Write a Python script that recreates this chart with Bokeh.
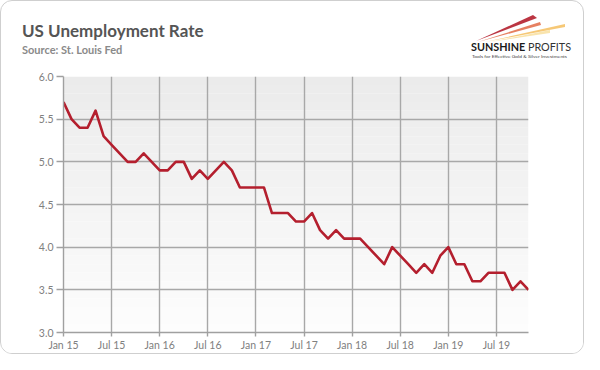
import numpy as np
from bokeh.plotting import figure
from bokeh.layouts import column
from bokeh.models import FixedTicker, Range1d, PrintfTickFormatter, Div
from bokeh.embed import file_html
from bokeh.resources import INLINE

# ---- data (monthly, Jan 2015 .. Nov 2019) ----
rate_2015 = [5.7, 5.5, 5.4, 5.4, 5.6, 5.3, 5.2, 5.1, 5.0, 5.0, 5.1, 5.0]
rate_2016 = [4.9, 4.9, 5.0, 5.0, 4.8, 4.9, 4.8, 4.9, 5.0, 4.9, 4.7, 4.7]
rate_2017 = [4.7, 4.7, 4.4, 4.4, 4.4, 4.3, 4.3, 4.4, 4.2, 4.1, 4.2, 4.1]
rate_2018 = [4.1, 4.1, 4.0, 3.9, 3.8, 4.0, 3.9, 3.8, 3.7, 3.8, 3.7, 3.9]
rate_2019 = [4.0, 3.8, 3.8, 3.6, 3.6, 3.7, 3.7, 3.7, 3.5, 3.6, 3.5]
rates = rate_2015 + rate_2016 + rate_2017 + rate_2018 + rate_2019
months = list(range(len(rates)))

tick_months = [0, 6, 12, 18, 24, 30, 36, 42, 48, 54]
tick_labels = ["Jan 15", "Jul 15", "Jan 16", "Jul 16", "Jan 17",
               "Jul 17", "Jan 18", "Jul 18", "Jan 19", "Jul 19"]
y_ticks = [3.0, 3.5, 4.0, 4.5, 5.0, 5.5, 6.0]

title_text = "US Unemployment Rate"
subtitle_text = "Source: St. Louis Fed"
logo_bold = "SUNSHINE"
logo_light = "PROFITS"
logo_tagline = "Tools for Effective Gold &amp; Silver Investments"

FONT = "Lato"
W = 582
HEADER_H = 62
F = f"font-family:{FONT},sans-serif;"

# ---------------- header (title, source, logo) ----------------
header_html = f"""
<svg xmlns="http://www.w3.org/2000/svg" width="{W}" height="{HEADER_H}" style="display:block">
  <text x="21" y="36" style="{F}font-size:17px;font-weight:bold;fill:#555555">{title_text}</text>
  <text x="21" y="53" style="{F}font-size:11px;font-weight:bold;fill:#8a8a8a">{subtitle_text}</text>
  <polygon points="475,40 532,14 536,17" fill="#b41f2e" fill-opacity="0.9"/>
  <polygon points="477,41 539,21 540,24" fill="#e0603a" fill-opacity="0.8"/>
  <polygon points="484,41 564,23 564,26" fill="#f2b13c" fill-opacity="0.7"/>
  <polygon points="489,41 549,29 549,32" fill="#f7d98a" fill-opacity="0.7"/>
  <text x="470" y="50" textLength="100" lengthAdjust="spacingAndGlyphs"
        style="{F}font-size:12px;fill:#1a1a1a"><tspan style="font-weight:bold">{logo_bold}</tspan> <tspan style="font-weight:normal;fill:#333333">{logo_light}</tspan></text>
  <text x="471" y="57" textLength="95" lengthAdjust="spacingAndGlyphs"
        style="{F}font-size:4.6px;fill:#444444">{logo_tagline}</text>
</svg>
"""
header = Div(text=header_html, width=W, height=HEADER_H,
             styles={"margin": "0", "padding": "0"})

# ---------------- main chart ----------------
p = figure(width=W, height=290, output_backend="svg", toolbar_location=None,
           x_range=Range1d(months[0], months[-1]), y_range=Range1d(3.0, 6.0),
           min_border_left=62, min_border_right=55, min_border_top=13,
           min_border_bottom=21)
p.background_fill_color = "white"
p.border_fill_color = "white"
p.outline_line_color = None

# plot-area gradient (light gray at top to white at bottom)
n = 30
edges = np.linspace(3.0, 6.0, n + 1)
cols = []
for i in range(n):
    t = (i + 0.5) / n
    c = int(round(253 - 18 * t))
    cols.append("#%02x%02x%02x" % (c, c, c))
p.quad(left=months[0], right=months[-1], bottom=edges[:-1], top=edges[1:],
       fill_color=cols, line_color=None, level="image")

# grid
p.xgrid.ticker = FixedTicker(ticks=tick_months)
p.ygrid.ticker = FixedTicker(ticks=y_ticks)
for g in (p.xgrid, p.ygrid):
    g.grid_line_color = "#a8a8a8"
    g.grid_line_width = 1.4

# axes
p.xaxis.ticker = FixedTicker(ticks=tick_months)
p.xaxis.major_label_overrides = {m: l for m, l in zip(tick_months, tick_labels)}
p.yaxis.ticker = FixedTicker(ticks=y_ticks)
p.yaxis.formatter = PrintfTickFormatter(format="%.1f")
for ax in (p.xaxis, p.yaxis):
    ax.axis_line_color = "#a0a0a0"
    ax.axis_line_width = 1.4
    ax.major_tick_line_color = "#a0a0a0"
    ax.major_tick_line_width = 1.4
    ax.minor_tick_line_color = None
    ax.major_tick_in = 0
    ax.major_label_text_font = FONT
    ax.major_label_text_font_size = "10.5px"
    ax.major_label_text_color = "#808080"
p.xaxis.major_tick_out = 4
p.yaxis.major_tick_out = 7
p.xaxis.major_label_standoff = 2
p.yaxis.major_label_standoff = 3

# data line
p.line(months, rates, line_color="#b41f2e", line_width=2.6, line_join="round")

layout = column(header, p, spacing=0,
                styles={"border": "1px solid #cfcfcf", "border-radius": "12px",
                        "overflow": "hidden", "background-color": "white"})

open("out.html", "w").write(file_html(layout, INLINE))
